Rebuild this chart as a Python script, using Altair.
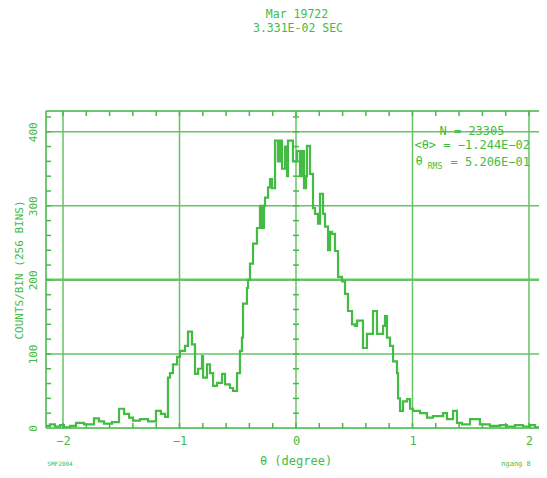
import altair as alt
import pandas as pd

# ---- data ----
theta_edges = [-2.146, -2.112, -2.069, -2.026, -1.991, -1.940, -1.888, -1.820, -1.734, -1.691,
               -1.648, -1.579, -1.519, -1.476, -1.433, -1.399, -1.339, -1.270, -1.202, -1.159,
               -1.124, -1.099, -1.082, -1.056, -1.021, -0.996, -0.953, -0.927, -0.893, -0.867,
               -0.841, -0.807, -0.798, -0.764, -0.738, -0.712, -0.678, -0.635, -0.609, -0.567,
               -0.541, -0.506, -0.481, -0.464, -0.455, -0.421, -0.412, -0.395, -0.369, -0.335,
               -0.309, -0.292, -0.275, -0.266, -0.240, -0.223, -0.206, -0.180, -0.155, -0.137,
               -0.120, -0.094, -0.077, -0.069, -0.026, 0.009, 0.034, 0.052, 0.069, 0.086,
               0.094, 0.120, 0.146, 0.163, 0.189, 0.206, 0.232, 0.249, 0.275, 0.292,
               0.309, 0.335, 0.361, 0.395, 0.421, 0.446, 0.481, 0.506, 0.524, 0.575,
               0.609, 0.661, 0.695, 0.747, 0.764, 0.781, 0.807, 0.833, 0.867, 0.876,
               0.893, 0.918, 0.953, 0.979, 1.004, 1.064, 1.124, 1.176, 1.262, 1.296,
               1.348, 1.382, 1.425, 1.494, 1.579, 1.665, 1.751, 1.811, 1.880, 1.948,
               2.009, 2.052, 2.146]
counts = [3, 5, 2, 4, 1, 3, 7, 5, 13, 9,
          6, 8, 26, 19, 14, 10, 12, 9, 23, 19,
          15, 68, 74, 86, 96, 104, 111, 130, 113, 73,
          80, 97, 68, 86, 74, 57, 61, 73, 59, 54,
          50, 74, 104, 122, 168, 189, 200, 222, 249, 270,
          300, 270, 300, 311, 325, 336, 324, 388, 360, 388,
          350, 380, 340, 388, 360, 374, 340, 374, 324, 340,
          381, 343, 297, 289, 276, 316, 289, 272, 240, 265,
          262, 239, 204, 198, 181, 158, 140, 138, 145, 108,
          127, 158, 127, 138, 151, 122, 111, 90, 74, 40,
          23, 36, 39, 26, 23, 20, 14, 16, 20, 12,
          23, 7, 5, 12, 5, 3, 4, 2, 4, 2,
          4, 1, 1]

x_major = [-2, -1, 0, 1, 2]
y_major = [100, 200, 300, 400]
y_labels = [0, 100, 200, 300, 400]
x_minor = [-2.0, -1.8, -1.6, -1.4, -1.2, -1.0, -0.8, -0.6, -0.4, -0.2, 0.0,
           0.2, 0.4, 0.6, 0.8, 1.0, 1.2, 1.4, 1.6, 1.8, 2.0]
y_minor = [20, 40, 60, 80, 100, 120, 140, 160, 180, 200, 220, 240, 260, 280,
           300, 320, 340, 360, 380, 400, 420]

title_lines = ["Mar 19722", "3.331E-02 SEC"]
stat_n = "N = 23305"
stat_mean = "<θ> = −1.244E−02"
stat_rms_sym = "θ"
stat_rms_sub = "RMS"
stat_rms_val = "=  5.206E−01"
x_title = "θ (degree)"
y_title = "COUNTS/BIN (256 BINS)"
corner_left = "SMF2004"
corner_right = "ngang 8"

# ---- chart ----
W, H = 493, 317
GREEN = "#44bb44"
GRID = "#66c466"
FONT = "DejaVu Sans Mono"

xs = alt.Scale(domain=[-2.146, 2.086], nice=False, zero=False)
ys = alt.Scale(domain=[0, 428], nice=False)

df = pd.DataFrame({"theta": theta_edges, "count": counts})

hist = alt.Chart(df).mark_line(interpolate="step-after", color=GREEN, strokeWidth=2.2, clip=True).encode(
    x=alt.X("theta:Q", scale=xs, axis=alt.Axis(
        values=x_major, format="d", domain=False, ticks=False, tickSize=0, grid=False,
        labelFont=FONT, labelFontSize=12, labelColor=GREEN, labelPadding=7,
        title=None)),
    y=alt.Y("count:Q", scale=ys, axis=alt.Axis(
        values=y_labels, format="d", domain=False, ticks=False, tickSize=0, grid=False,
        labelAngle=-90, labelAlign="center", labelBaseline="bottom",
        labelFont=FONT, labelFontSize=11, labelColor=GREEN, labelPadding=8,
        title=y_title, titleFont=FONT, titleFontSize=11, titleFontWeight="normal",
        titleColor=GREEN, titlePadding=3)),
)

xg = alt.Chart(pd.DataFrame({"v": x_major})).mark_rule(color=GRID, strokeWidth=1.5).encode(
    x=alt.X("v:Q", scale=xs), y=alt.value(0), y2=alt.value(H))
yg_df = pd.DataFrame({"v": y_major, "w": [1.5, 2.5, 1.5, 1.5]})
yg = alt.Chart(yg_df).mark_rule(color=GRID).encode(
    y=alt.Y("v:Q", scale=ys), x=alt.value(0), x2=alt.value(W),
    strokeWidth=alt.StrokeWidth("w:Q", scale=None))

frame = alt.layer(
    alt.Chart(pd.DataFrame({"v": [0]})).mark_rule(color=GREEN, strokeWidth=1.5).encode(
        x=alt.value(0), y=alt.value(0), y2=alt.value(H)),
    alt.Chart(pd.DataFrame({"v": [0]})).mark_rule(color=GREEN, strokeWidth=1.5).encode(
        x=alt.value(0), x2=alt.value(W), y=alt.value(0)),
    alt.Chart(pd.DataFrame({"v": [0]})).mark_rule(color=GREEN, strokeWidth=1.5).encode(
        x=alt.value(0), x2=alt.value(W), y=alt.value(H)),
)

xm = pd.DataFrame({"v": x_minor})
ym = pd.DataFrame({"v": y_minor})
tick_bot = alt.Chart(xm).mark_rule(color=GREEN, strokeWidth=1.5).encode(
    x=alt.X("v:Q", scale=xs), y=alt.value(H), y2=alt.value(H - 5))
tick_top = alt.Chart(xm).mark_rule(color=GREEN, strokeWidth=1.5).encode(
    x=alt.X("v:Q", scale=xs), y=alt.value(0), y2=alt.value(5))
tick_left = alt.Chart(ym).mark_rule(color=GREEN, strokeWidth=1.5).encode(
    y=alt.Y("v:Q", scale=ys), x=alt.value(0), x2=alt.value(5))
tick_zero = alt.Chart(ym).mark_rule(color=GREEN, strokeWidth=1.5, xOffset=-3, x2Offset=3).encode(
    y=alt.Y("v:Q", scale=ys), x=alt.datum(0, scale=xs), x2=alt.datum(0))


def txt(s, x, y, size=12, align="center", baseline="middle"):
    return alt.Chart(pd.DataFrame({"t": [s]})).mark_text(
        font=FONT, fontSize=size, color=GREEN, align=align, baseline=baseline
    ).encode(x=alt.value(x), y=alt.value(y), text="t:N")


texts = [
    txt(title_lines[0], 251, -96, 11.5),
    txt(title_lines[1], 252, -82, 11.5),
    txt(stat_n, 426, 20, 12),
    txt(stat_mean, 484, 34, 12, align="right"),
    txt(stat_rms_sym, 373, 50, 12, align="center"),
    txt(stat_rms_sub, 389, 56, 8, align="center"),
    txt(stat_rms_val, 484, 51, 12, align="right"),
    txt(x_title, 250, 350, 12),
    txt(corner_left, 14, 353, 6),
    txt(corner_right, 470, 353, 7),
]

chart = alt.layer(xg, yg, hist, frame, tick_bot, tick_top, tick_left, tick_zero, *texts).properties(
    width=W, height=H,
    autosize=alt.AutoSizeParams(type="none"),
    padding={"left": 38, "top": 103, "right": 0, "bottom": 40},
).configure_view(stroke=None).configure(background="white")

chart.save("out.html", embed_options={"renderer": "svg", "actions": False})
